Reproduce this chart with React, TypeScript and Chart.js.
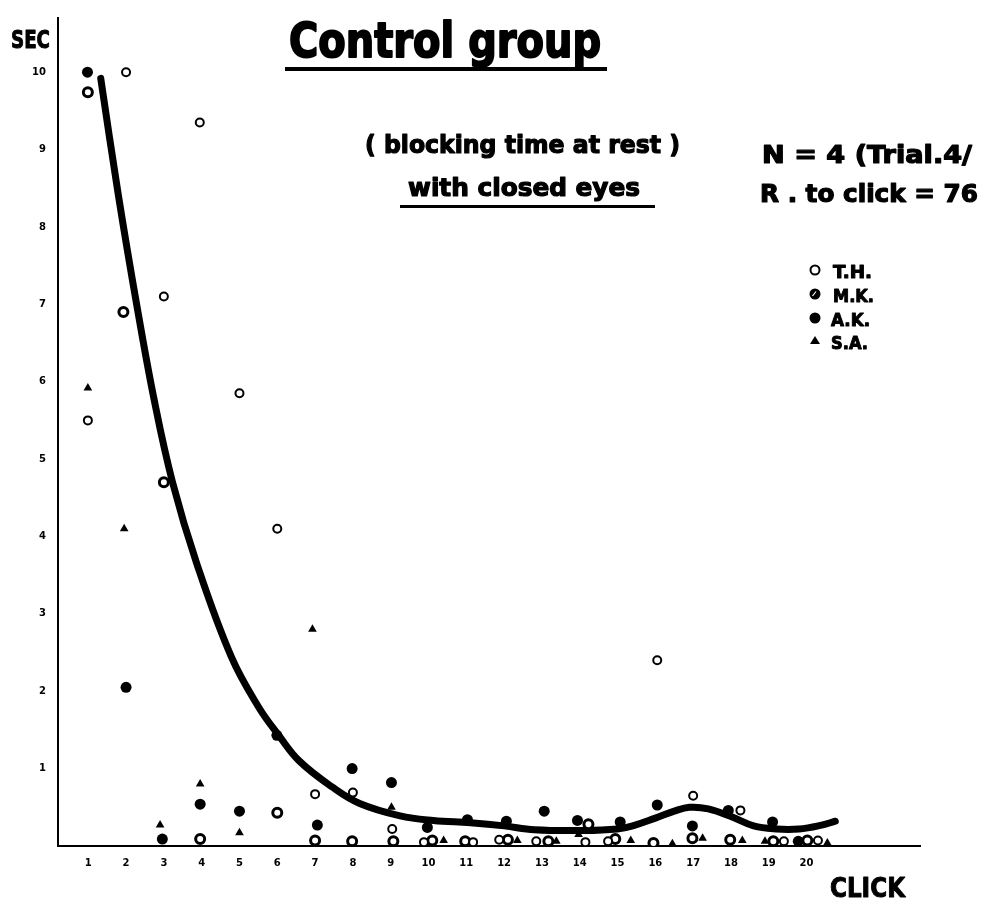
import React, { useEffect, useRef } from 'react';
import { Chart, registerables } from 'chart.js';

Chart.register(...registerables);

// ---- data ----
const clickTicks = [1, 2, 3, 4, 5, 6, 7, 8, 9, 10, 11, 12, 13, 14, 15, 16, 17, 18, 19, 20];
const secTicks = [1, 2, 3, 4, 5, 6, 7, 8, 9, 10];

// T.H. (open circle)
const thClick = [0.99, 2, 3, 3.95, 5, 6, 7, 8, 9.04, 9.88, 11.18, 11.87, 12.85, 14.15, 14.75, 16.05, 17, 18.25, 19.4, 20.3];
const thSec = [5.5, 10.0, 7.1, 9.35, 5.85, 4.1, 0.67, 0.69, 0.22, 0.05, 0.05, 0.08, 0.06, 0.05, 0.06, 2.4, 0.65, 0.46, 0.06, 0.07];

// M.K. (hatched circle)
const mkClick = [0.99, 1.93, 3.0, 3.96, 6.0, 7.0, 7.98, 9.07, 10.1, 10.97, 12.1, 13.17, 14.23, 14.94, 15.95, 16.98, 17.98, 19.12, 20.02];
const mkSec = [9.74, 6.9, 4.7, 0.09, 0.43, 0.07, 0.06, 0.06, 0.07, 0.06, 0.08, 0.06, 0.28, 0.09, 0.04, 0.1, 0.08, 0.06, 0.07];

// A.K. (filled circle)
const akClick = [0.98, 2.0, 2.96, 3.96, 5.0, 5.99, 7.06, 7.98, 9.02, 9.97, 11.03, 12.06, 13.06, 13.94, 15.07, 16.05, 16.98, 17.93, 19.1, 19.78];
const akSec = [10.0, 2.05, 0.09, 0.54, 0.45, 1.43, 0.27, 1.0, 0.82, 0.24, 0.34, 0.32, 0.45, 0.33, 0.31, 0.53, 0.26, 0.46, 0.31, 0.06];

// S.A. (filled triangle)
const saClick = [0.99, 1.95, 2.9, 3.96, 5.0, 6.93, 9.02, 10.4, 12.35, 13.38, 13.97, 15.35, 16.45, 17.25, 18.3, 18.9, 20.55];
const saSec = [5.92, 4.1, 0.27, 0.8, 0.17, 2.8, 0.5, 0.07, 0.07, 0.06, 0.15, 0.07, 0.03, 0.1, 0.07, 0.06, 0.04];

// hand-drawn mean curve
const curveClick = [1.33, 1.8, 2.28, 2.75, 3.23, 3.87, 4.78, 5.5, 6.04, 6.58, 7.46, 8.18, 9.25, 10.13, 11.11, 12.0, 12.8, 14.1, 15.0, 15.4, 16.0, 16.5, 16.9, 17.4, 18.0, 18.6, 19.2, 19.8, 20.4, 20.76];
const curveSec = [9.92, 8.4, 7.0, 5.75, 4.7, 3.65, 2.45, 1.8, 1.43, 1.1, 0.76, 0.55, 0.39, 0.33, 0.3, 0.26, 0.21, 0.2, 0.22, 0.26, 0.36, 0.45, 0.5, 0.48, 0.38, 0.26, 0.22, 0.22, 0.27, 0.32];

const titleText = 'Control group';
const subtitle1 = '( blocking time at rest )';
const subtitle2 = 'with closed eyes';
const note1 = 'N = 4 (Trial.4/';
const note2 = 'R . to click = 76';
const legendLabels = ['T.H.', 'M.K.', 'A.K.', 'S.A.'];
const yAxisLabel = 'SEC';
const xAxisLabel = 'CLICK';

const FONT = '"DejaVu Sans", "Liberation Sans", sans-serif';

function pts(xs: number[], ys: number[]) {
  return xs.map((x, i) => ({ x, y: ys[i] }));
}

function drawFit(ctx: CanvasRenderingContext2D, text: string, x0: number, x1: number, baseY: number, size: number, heavy = 0) {
  ctx.save();
  ctx.font = `bold ${size}px ${FONT}`;
  ctx.textAlign = 'left';
  ctx.textBaseline = 'alphabetic';
  const w = ctx.measureText(text).width;
  const sx = (x1 - x0) / w;
  ctx.translate(x0, baseY);
  ctx.scale(sx, 1);
  ctx.fillStyle = '#000';
  ctx.fillText(text, 0, 0);
  if (heavy > 0) {
    ctx.strokeStyle = '#000';
    ctx.lineWidth = heavy;
    ctx.lineJoin = 'round';
    ctx.strokeText(text, 0, 0);
  }
  ctx.restore();
}

const annotations = {
  id: 'annotations',
  afterDraw(chart: any) {
    const ctx: CanvasRenderingContext2D = chart.ctx;
    ctx.save();
    ctx.fillStyle = '#000';
    drawFit(ctx, yAxisLabel, 11, 50, 48, 24, 1);
    drawFit(ctx, xAxisLabel, 830, 905, 897, 27, 1);
    drawFit(ctx, titleText, 289, 601, 57, 48, 2);
    ctx.fillRect(285, 67, 322, 4);
    drawFit(ctx, subtitle1, 365, 680, 153, 24, 1.2);
    drawFit(ctx, subtitle2, 408, 640, 196, 24, 1.2);
    ctx.fillRect(400, 205, 255, 3);
    drawFit(ctx, note1, 762, 972, 163, 24, 1.2);
    drawFit(ctx, note2, 760, 978, 202, 24, 1.2);

    // legend
    const rows = [270, 294, 318, 341];
    const lx = 815;
    ctx.lineWidth = 2;
    ctx.strokeStyle = '#000';
    ctx.fillStyle = '#fff';
    ctx.beginPath();
    ctx.arc(lx, rows[0], 4.5, 0, Math.PI * 2);
    ctx.fill();
    ctx.stroke();
    ctx.fillStyle = '#000';
    ctx.beginPath();
    ctx.arc(lx, rows[1], 5.5, 0, Math.PI * 2);
    ctx.fill();
    ctx.strokeStyle = '#fff';
    ctx.lineWidth = 1.2;
    ctx.beginPath();
    ctx.moveTo(lx - 2.5, rows[1] + 2);
    ctx.lineTo(lx + 1, rows[1] - 2.5);
    ctx.stroke();
    ctx.fillStyle = '#000';
    ctx.beginPath();
    ctx.arc(lx, rows[2], 5.5, 0, Math.PI * 2);
    ctx.fill();
    ctx.beginPath();
    ctx.moveTo(lx, rows[3] - 5);
    ctx.lineTo(lx + 5, rows[3] + 3);
    ctx.lineTo(lx - 5, rows[3] + 3);
    ctx.closePath();
    ctx.fill();
    const lw = [[833, 872], [833, 874], [831, 870], [831, 868]];
    legendLabels.forEach((t, i) => drawFit(ctx, t, lw[i][0], lw[i][1], rows[i] + 8, 18, 1));
    ctx.restore();
  },
};

export default function App() {
  const ref = useRef<HTMLCanvasElement | null>(null);
  useEffect(() => {
    document.body.style.margin = '0';
    const canvas = ref.current;
    if (!canvas) return;
    const tickFont = { family: FONT, weight: 'bold' as const, size: 10 };
    const chart = new Chart(canvas, {
      type: 'scatter',
      data: {
        datasets: [
          {
            label: 'T.H.',
            data: pts(thClick, thSec),
            pointStyle: 'circle',
            pointRadius: 4,
            pointBorderWidth: 2,
            pointBackgroundColor: '#fff',
            pointBorderColor: '#000',
            order: 0,
          },
          {
            label: 'M.K.',
            data: pts(mkClick, mkSec),
            pointStyle: 'circle',
            pointRadius: 4.5,
            pointBorderWidth: 3,
            pointBackgroundColor: '#fff',
            pointBorderColor: '#000',
            order: 1,
          },
          {
            label: 'A.K.',
            data: pts(akClick, akSec),
            pointStyle: 'circle',
            pointRadius: 5.5,
            pointBorderWidth: 0,
            pointBackgroundColor: '#000',
            pointBorderColor: '#000',
            order: 2,
          },
          {
            label: 'S.A.',
            data: pts(saClick, saSec),
            pointStyle: 'triangle',
            pointRadius: 5,
            pointBorderWidth: 0,
            pointBackgroundColor: '#000',
            pointBorderColor: '#000',
            order: 3,
          },
          {
            label: 'curve',
            data: pts(curveClick, curveSec),
            showLine: true,
            pointRadius: 0,
            borderColor: '#000',
            borderWidth: 7,
            borderCapStyle: 'round',
            borderJoinStyle: 'round',
            tension: 0.4,
            order: 10,
          } as any,
        ],
      },
      options: {
        animation: false,
        responsive: false,
        devicePixelRatio: 1,
        layout: { padding: { left: 0, right: 61, top: 12, bottom: 0 } },
        plugins: {
          legend: { display: false },
          tooltip: { enabled: false },
          title: { display: false },
        },
        scales: {
          x: {
            type: 'linear',
            min: 0.2,
            max: 23,
            afterFit: (s: any) => {
              s.height = 55;
            },
            afterBuildTicks: (s: any) => {
              s.ticks = clickTicks.map((v) => ({ value: v }));
            },
            grid: { display: false, drawTicks: false },
            border: { display: true, color: '#000', width: 2 },
            ticks: {
              padding: 11,
              color: '#000',
              font: tickFont,
              maxRotation: 0,
              autoSkip: false,
              callback: (v: any) => String(v),
            },
          },
          y: {
            type: 'linear',
            min: 0,
            max: 10.7,
            afterFit: (s: any) => {
              s.width = 58;
            },
            afterBuildTicks: (s: any) => {
              s.ticks = secTicks.map((v) => ({ value: v }));
            },
            grid: { display: false, drawTicks: false },
            border: { display: true, color: '#000', width: 2 },
            ticks: {
              padding: 12,
              color: '#000',
              font: tickFont,
              autoSkip: false,
              callback: (v: any) => String(v),
            },
          },
        },
      },
      plugins: [annotations],
    });
    return () => chart.destroy();
  }, []);
  return (
    <div style={{ width: 981, height: 901, background: '#fff' }}>
      <canvas ref={ref} width={981} height={901} style={{ display: 'block' }} />
    </div>
  );
}
